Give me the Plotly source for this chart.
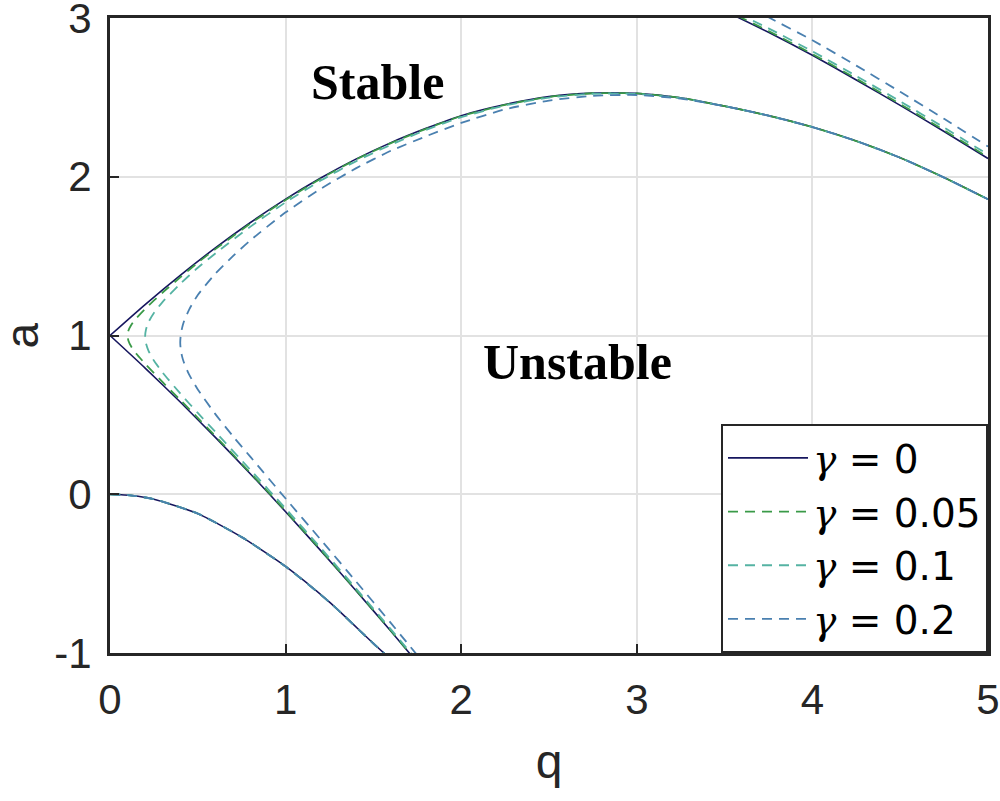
import plotly.graph_objects as go

# ---------------- data ----------------
GAMMA_LABELS = ["γ = 0", "γ = 0.05", "γ = 0.1", "γ = 0.2"]
COLORS = ["#16165e", "#3a9a48", "#55b3a3", "#4a80b0"]
DASHES = ["solid", "10px,7px", "10px,7px", "10px,7px"]

X_TICKS = [0, 1, 2, 3, 4, 5]
X_TICK_TEXT = ["0", "1", "2", "3", "4", "5"]
Y_TICKS = [-1, 0, 1, 2, 3]
Y_TICK_TEXT = ["-1", "0", "1", "2", "3"]

# lowest curve (starting at a = 0) - identical for all damping values
A0_Q = [0, 0.125, 0.25, 0.5, 0.75, 1.0, 1.25, 1.5, 1.6]
A0_A = [0, -0.008, -0.031, -0.122, -0.270, -0.455, -0.68, -0.94, -1.04]

# gamma = 0: the two boundaries meeting at (0, 1)
T0_LOW_Q = [0.0, 0.2, 0.4, 0.6, 0.8, 1.0, 1.2, 1.4, 1.6, 1.75]
T0_LOW_A = [1.0, 0.795, 0.581, 0.358, 0.128, -0.110, -0.355, -0.606, -0.863, -1.060]
T0_UP_Q = [0.0, 0.2, 0.4, 0.6, 0.8, 1.0, 1.2, 1.4, 1.6, 1.8, 2.0, 2.25, 2.5, 2.75,
           3.0, 3.25, 3.5, 3.75, 4.0, 4.25, 4.5, 4.75, 5.0]
T0_UP_A = [1.0, 1.195, 1.379, 1.552, 1.712, 1.859, 1.992, 2.111, 2.215, 2.305, 2.385,
           2.455, 2.505, 2.527, 2.525, 2.497, 2.445, 2.385, 2.313, 2.225, 2.12, 1.995, 1.858]

# damped tongues (lower branch traced to the rounded tip, then upper branch)
T005_Q = [1.75, 1.6, 1.4, 1.2, 1.0, 0.8, 0.6, 0.5, 0.4, 0.3, 0.2, 0.15, 0.12, 0.105, 0.1,
          0.105, 0.12, 0.15, 0.2, 0.3, 0.4, 0.5, 0.6, 0.8, 1.0, 1.2, 1.4, 1.6, 1.8,
          2.0, 2.25, 2.5, 2.75, 3.0, 3.25, 3.5, 3.75, 4.0, 4.25, 4.5, 4.75, 5.0]
T005_A = [-1.057, -0.860, -0.603, -0.351, -0.105, 0.134, 0.366, 0.481, 0.594, 0.706,
          0.822, 0.885, 0.932, 0.967, 0.999,
          1.031, 1.065, 1.109, 1.168, 1.271, 1.366, 1.459, 1.544, 1.706, 1.854, 1.988,
          2.108, 2.212, 2.302, 2.382, 2.453, 2.503, 2.526, 2.525, 2.497, 2.445, 2.385,
          2.313, 2.225, 2.12, 1.995, 1.858]

T01_Q = [1.75, 1.6, 1.4, 1.2, 1.0, 0.8, 0.6, 0.5, 0.4, 0.3, 0.25, 0.22, 0.205, 0.2,
         0.205, 0.22, 0.25, 0.3, 0.4, 0.5, 0.6, 0.8, 1.0, 1.2, 1.4, 1.6, 1.8, 2.0,
         2.25, 2.5, 2.75, 3.0, 3.25, 3.5, 3.75, 4.0, 4.25, 4.5, 4.75, 5.0]
T01_A = [-1.049, -0.851, -0.592, -0.338, -0.090, 0.153, 0.393, 0.512, 0.635, 0.766,
         0.842, 0.902, 0.950, 0.993,
         1.038, 1.086, 1.142, 1.212, 1.325, 1.427, 1.517, 1.686, 1.839, 1.976, 2.097,
         2.202, 2.295, 2.375, 2.449, 2.499, 2.523, 2.522, 2.495, 2.445, 2.385, 2.313,
         2.225, 2.12, 1.995, 1.858]

T02_Q = [1.75, 1.6, 1.4, 1.2, 1.0, 0.8, 0.7, 0.6, 0.5, 0.45, 0.42, 0.41, 0.4025, 0.4,
         0.4025, 0.41, 0.42, 0.45, 0.5, 0.6, 0.7, 0.8, 1.0, 1.2, 1.4, 1.6, 1.8, 2.0,
         2.25, 2.5, 2.75, 3.0, 3.25, 3.5, 3.75, 4.0, 4.25, 4.5, 4.75, 5.0]
T02_A = [-1.014, -0.812, -0.548, -0.286, -0.027, 0.235, 0.366, 0.505, 0.660, 0.755,
         0.833, 0.870, 0.915, 0.955,
         1.000, 1.045, 1.085, 1.162, 1.255, 1.390, 1.500, 1.600, 1.776, 1.924, 2.053,
         2.164, 2.255, 2.339, 2.425, 2.480, 2.510, 2.515, 2.492, 2.445, 2.385, 2.313,
         2.225, 2.12, 1.995, 1.858]

# second tongue lower boundary (top right corner)
B2_Q = [3.4, 3.5, 3.75, 4.0, 4.25, 4.5, 4.75, 5.0]
B2_A0 = [3.10, 3.045, 2.91, 2.765, 2.61, 2.45, 2.285, 2.115]
B2_A005 = [3.108, 3.053, 2.918, 2.773, 2.618, 2.458, 2.293, 2.123]
B2_A01 = [3.125, 3.07, 2.935, 2.79, 2.635, 2.475, 2.31, 2.14]
B2_A02 = [3.215, 3.16, 3.005, 2.86, 2.70, 2.535, 2.365, 2.19]

TONGUES = [[(T0_LOW_Q, T0_LOW_A), (T0_UP_Q, T0_UP_A)],
           [(T005_Q, T005_A)], [(T01_Q, T01_A)], [(T02_Q, T02_A)]]
B2_SERIES = [B2_A0, B2_A005, B2_A01, B2_A02]

LABEL_STABLE = ("Stable", 1.526, 2.60)
LABEL_UNSTABLE = ("Unstable", 2.665, 0.833)
X_TITLE = "q"
Y_TITLE = "a"

# ---------------- figure ----------------
W, H = 1000, 801
ML, MR, MT, MB = 110, 12, 18, 148
fig = go.Figure()
FONT = "Liberation Sans, Arial, Helvetica, sans-serif"
LEG_FONT = "DejaVu Sans, Liberation Sans, sans-serif"
GAMMA_HTML = "<span style='font-family:DejaVu Serif'><i>γ</i></span>"

for i, name in enumerate(GAMMA_LABELS):
    lw = 1.6 if i == 0 else 1.8
    line = dict(color=COLORS[i], width=lw, dash=DASHES[i], shape="spline", smoothing=0.6)
    legend_name = name.replace("γ", GAMMA_HTML)
    first = True
    for tq, ta in TONGUES[i]:
        fig.add_trace(go.Scatter(x=tq, y=ta, mode="lines", line=line, name=legend_name,
                                 legendgroup=name, showlegend=first))
        first = False
    fig.add_trace(go.Scatter(x=A0_Q, y=A0_A, mode="lines", line=line, name=legend_name,
                             legendgroup=name, showlegend=False))
    fig.add_trace(go.Scatter(x=B2_Q, y=B2_SERIES[i], mode="lines", line=line, name=legend_name,
                             legendgroup=name, showlegend=False))

for text, qx, ay in (LABEL_STABLE, LABEL_UNSTABLE):
    fig.add_annotation(x=qx, y=ay, text="<b>%s</b>" % text, showarrow=False,
                       font=dict(family="Liberation Serif, Times New Roman, serif",
                                 size=50, color="black"))

# y-axis title as a rotated annotation so it can sit close to the page edge
fig.add_annotation(xref="paper", yref="paper", x=(21 - ML) / (W - ML - MR), y=0.5,
                   text=Y_TITLE, textangle=-90, showarrow=False,
                   xanchor="center", yanchor="middle", height=40, borderpad=0,
                   font=dict(family=FONT, size=46, color="#262626"))

axis_common = dict(
    showline=True, mirror=True, linecolor="#262626", linewidth=3,
    ticks="inside", ticklen=9, tickwidth=2, tickcolor="#262626",
    showgrid=True, gridcolor="#e2e2e2", gridwidth=2, zeroline=False,
    tickfont=dict(family=FONT, size=42, color="#262626"),
    ticklabeloverflow="allow",
    automargin=False,
)

fig.update_layout(
    width=W, height=H,
    margin=dict(l=ML, r=MR, t=MT, b=MB, autoexpand=False),
    paper_bgcolor="white", plot_bgcolor="white",
    xaxis=dict(range=[0, 5], tickvals=X_TICKS, ticktext=X_TICK_TEXT,
               ticklabelstandoff=8,
               title=dict(text=X_TITLE, font=dict(family=FONT, size=48, color="#262626"),
                          standoff=22),
               **axis_common),
    yaxis=dict(range=[-1, 3.0001], tickvals=Y_TICKS, ticktext=Y_TICK_TEXT,
               ticklabelstandoff=7,
               **axis_common),
    legend=dict(x=1, y=0, xanchor="right", yanchor="bottom",
                bgcolor="white", bordercolor="#262626", borderwidth=2,
                font=dict(family=LEG_FONT, size=39, color="black"),
                itemwidth=80, tracegroupgap=0),
    showlegend=True,
)

# the browser's default 8px body margin would shift the figure; remove it
fig.write_html("out.html",
               config={"displayModeBar": False},
               post_script="document.body.style.margin='0';"
                           "document.documentElement.style.overflow='hidden';")
